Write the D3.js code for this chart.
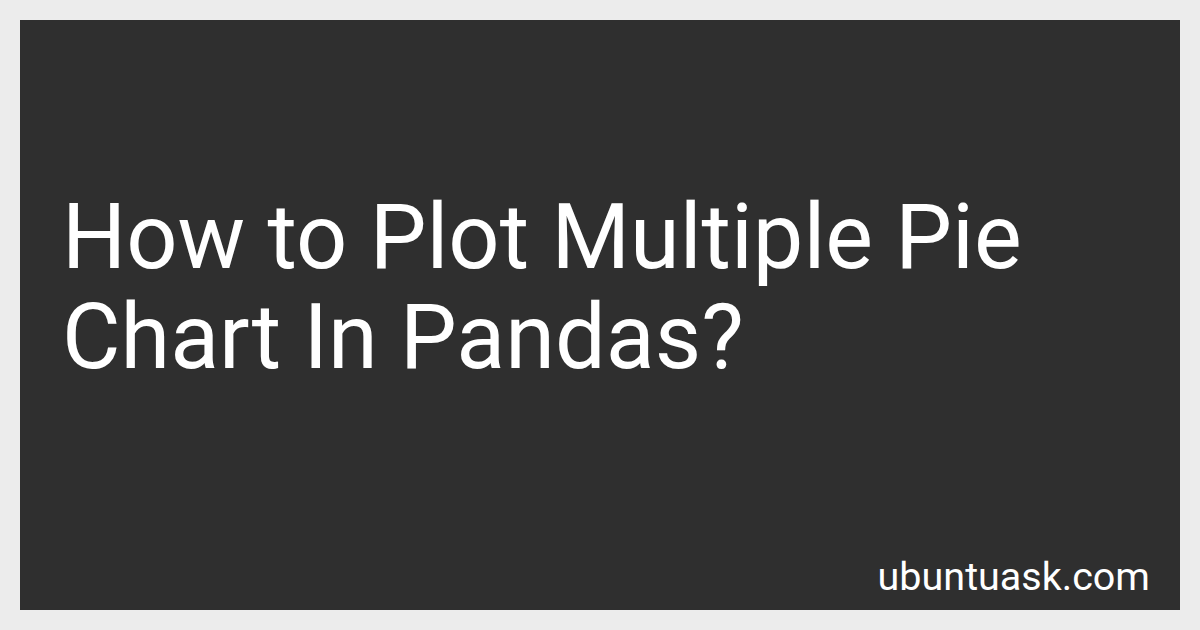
<!DOCTYPE html>
<html lang="en">
<head>
    <meta charset="UTF-8">
    <title>How to Plot Multiple Pie Chart In Pandas?</title>
    <script src="https://cdn.jsdelivr.net/npm/d3@7"></script>
    <style>
        body { margin: 0; background: #ececec; }
        svg text { font-family: Roboto, "Open Sans", sans-serif; fill: #ffffff; }
    </style>
</head>
<body>
    <div id="card"></div>
    <script>
        // title lines and site label
        var titleLines = ["How to Plot Multiple Pie", "Chart In Pandas?"];
        var siteLabel = ["ubuntuask.com"];

        var width = 1200, height = 630;

        var svg = d3.select("#card")
            .append("svg")
            .attr("width", width)
            .attr("height", height);

        // outer light frame
        svg.append("rect")
            .attr("width", width)
            .attr("height", height)
            .attr("fill", "#ececec");

        // dark panel
        svg.append("rect")
            .attr("x", 20)
            .attr("y", 20)
            .attr("width", width - 40)
            .attr("height", height - 40)
            .attr("fill", "#2f2f2f");

        // line positions from a point scale
        var lineY = d3.scalePoint()
            .domain(d3.range(titleLines.length))
            .range([268, 368]);

        svg.selectAll("text.title")
            .data(titleLines)
            .enter()
            .append("text")
            .attr("class", "title")
            .attr("x", 62)
            .attr("y", function(d, i) { return lineY(i); })
            .attr("font-size", 90)
            .text(function(d) { return d; });

        svg.selectAll("text.site")
            .data(siteLabel)
            .enter()
            .append("text")
            .attr("class", "site")
            .attr("x", 1150)
            .attr("y", 590)
            .attr("text-anchor", "end")
            .attr("font-size", 39.5)
            .text(function(d) { return d; });
    </script>
</body>
</html>
